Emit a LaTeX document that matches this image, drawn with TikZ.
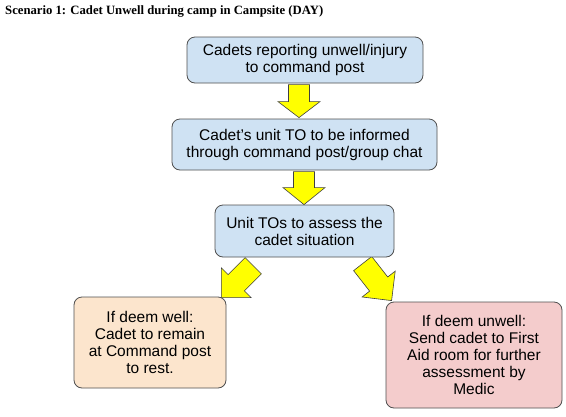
\documentclass[tikz,border=0pt]{standalone}
\usepackage{fontspec}
\setmainfont{Liberation Sans}
\newfontfamily\titlefont{Liberation Serif}
\usetikzlibrary{calc}
\definecolor{boxblue}{HTML}{CFE2F3}
\definecolor{boxorange}{HTML}{FCE5CD}
\definecolor{boxred}{HTML}{F4CCCC}
\definecolor{edgegray}{HTML}{505050}
\definecolor{arrowyellow}{HTML}{FFFF00}
\definecolor{arrowedge}{HTML}{404040}
\pgfdeclarelayer{bg}
\pgfsetlayers{bg,main}
\tikzset{
  box/.style={draw=edgegray, line width=0.8pt, rounded corners=8pt, align=center,
    inner sep=0pt, font=\fontsize{15.5}{17}\selectfont},
  barrow/.style={draw=arrowedge, line width=0.6pt, fill=arrowyellow, line join=miter},
}
% #1 tip coordinate, #2 rotation, #3 total length, #4 head length, #5 shaft half width
\newcommand\blockarrow[5]{%
  \begin{scope}[shift={(#1)},rotate=#2]
    \draw[barrow] (-#5,-#3) -- (#5,-#3) -- (#5,-#4) -- (21,-#4) -- (0,0)
      -- (-21,-#4) -- (-#5,-#4) -- cycle;
  \end{scope}}
\begin{document}
\begin{tikzpicture}[x=1pt,y=-1pt]
\useasboundingbox (0,0) rectangle (566,416);

\node[anchor=base west, inner sep=0pt, font=\titlefont\bfseries\fontsize{12.7}{14}\selectfont]
  (title) at (5,14) {Scenario 1: Cadet Unwell during camp in Campsite (DAY)};

\node[box, fill=boxblue, minimum width=236pt, minimum height=46pt] (b1) at (305,60)
  {Cadets reporting unwell/injury\\to command post};
\node[box, fill=boxblue, minimum width=265pt, minimum height=51pt] (b2) at (304.5,144.5)
  {Cadet's unit TO to be informed\\through command post/group chat};
\node[box, fill=boxblue, minimum width=179pt, minimum height=52pt] (b3) at (304.5,231)
  {Unit TOs to assess the\\cadet situation};
\node[box, fill=boxorange, minimum width=152pt, minimum height=91pt] (bl) at (150,342.5)
  {If deem well:\\Cadet to remain\\at Command post\\to rest.};
\node[box, fill=boxred, minimum width=176pt, minimum height=106pt] (br) at (474,355)
  {If deem unwell:\\Send cadet to First\\Aid room for further\\assessment by\\Medic};

\coordinate (t1) at ($(b2.north)+(-5.5,-1)$);
\coordinate (t2) at ($(b3.north)+(-0.5,0)$);
\coordinate (tl) at ($(bl.north east)+(-5,1)$);
\coordinate (tr) at ($(br.north west)+(6,-1)$);

\begin{pgfonlayer}{bg}
  \fill[white] (0,0) rectangle (566,416);
  \blockarrow{t1}{0}{33}{16}{10.5}
  \blockarrow{t2}{0}{33}{17}{10.5}
  \blockarrow{tl}{-45}{45}{21}{11.5}
  \blockarrow{tr}{38}{47}{21}{11.5}
\end{pgfonlayer}
\end{tikzpicture}
\end{document}
